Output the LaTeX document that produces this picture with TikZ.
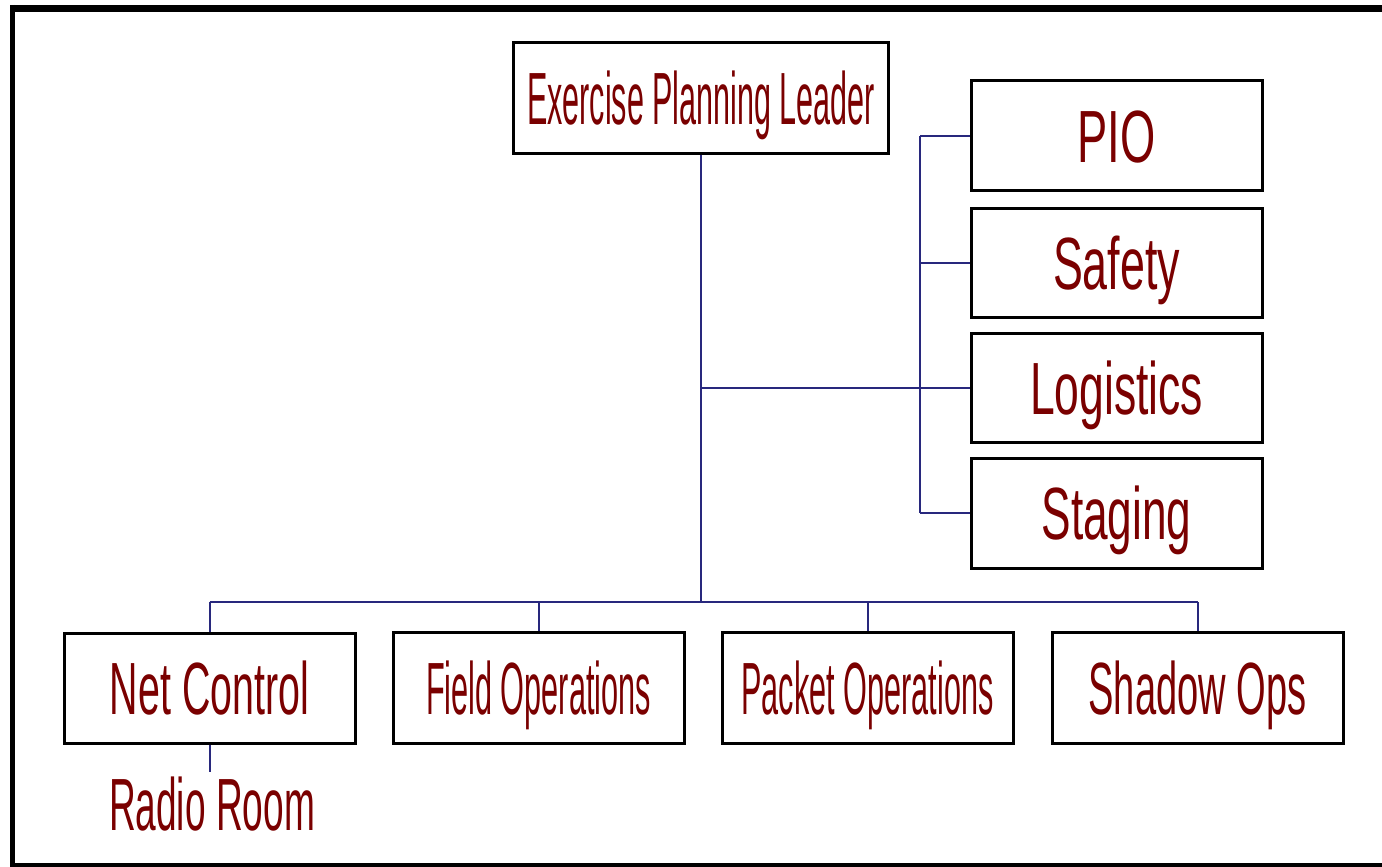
\documentclass[tikz,border=0pt]{standalone}
\usepackage{fontspec}
\usepackage{graphicx}
\setmainfont{Liberation Sans}
\definecolor{txtred}{RGB}{122,0,0}
\definecolor{navy}{RGB}{40,40,125}
\newcommand{\tw}[2]{\resizebox{#1}{\height}{#2}}
\tikzset{
  box/.style={draw=black, line width=3pt, fill=white, inner sep=0pt,
    minimum width=291pt, minimum height=109pt,
    font=\fontsize{74}{80}\selectfont, text=txtred,
    text height=53pt, text depth=0pt},
  plain/.style={inner sep=0pt, font=\fontsize{74}{80}\selectfont, text=txtred,
    text height=53pt, text depth=0pt},
  conn/.style={draw=navy, line width=2pt},
  frame/.style={draw=black}
}
\begin{document}
\begin{tikzpicture}[x=1pt, y=-1pt]
\useasboundingbox (0,0) rectangle (1382,867);
% frame
\draw[frame, line width=7pt] (10,8.5) -- (1382,8.5);
\draw[frame, line width=5pt] (12.5,5) -- (12.5,867);
\draw[frame, line width=6pt] (10,866) -- (1382,866);
% nodes
\node[box, minimum width=375pt, minimum height=110pt] (epl) at (701,98) {\tw{348pt}{Exercise Planning Leader}};
\node[box] (pio) at (1116.5,135.5) {\tw{78pt}{PIO}};
\node[box] (safety) at (1116.5,262.5) {\tw{127pt}{Safety}};
\node[box] (logistics) at (1116.5,387.5) {\tw{173pt}{Logistics}};
\node[box, minimum height=110pt] (staging) at (1116.5,513) {\tw{150pt}{Staging}};
\node[box, minimum height=110pt] (netc) at (209.5,688) {\tw{199pt}{Net Control}};
\node[box, minimum height=111pt] (field) at (538.5,687.5) {\tw{225pt}{Field Operations}};
\node[box, minimum height=111pt] (packet) at (867.5,687.5) {\tw{252pt}{Packet Operations}};
\node[box, minimum height=111pt] (shadow) at (1197.5,687.5) {\tw{218pt}{Shadow Ops}};
\node[plain] (radio) at (212,804) {\tw{206pt}{Radio Room}};
% connector coordinates
\coordinate (bus) at (702,602);
\coordinate (sv) at (920,0);
% connectors
\draw[conn] (epl.south) -- (epl.south |- bus);
\draw[conn] (netc.north |- bus) -- (shadow.north |- bus);
\draw[conn] (netc.north |- bus) -- (netc.north);
\draw[conn] (field.north |- bus) -- (field.north);
\draw[conn] (packet.north |- bus) -- (packet.north);
\draw[conn] (shadow.north |- bus) -- (shadow.north);
\draw[conn] (sv |- pio.west) -- (sv |- staging.west);
\draw[conn] (sv |- pio.west) -- (pio.west);
\draw[conn] (sv |- safety.west) -- (safety.west);
\draw[conn] (epl.south |- logistics.west) -- (logistics.west);
\draw[conn] (sv |- staging.west) -- (staging.west);
\draw[conn, shorten >=5pt] (netc.south) -- (netc.south |- radio.north);
\end{tikzpicture}
\end{document}
